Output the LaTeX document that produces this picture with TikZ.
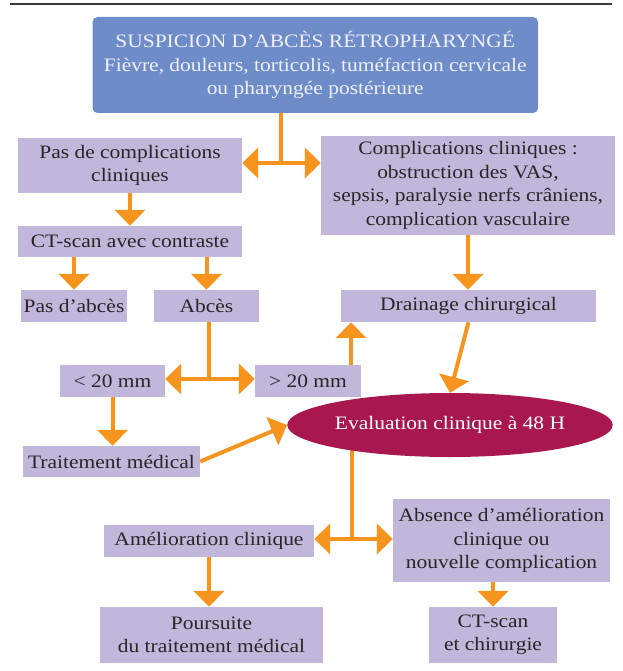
\documentclass[tikz,border=0pt]{standalone}
\usepackage{fontspec}
\setmainfont{Liberation Serif}[FakeStretch=1.13]
\usetikzlibrary{arrows.meta,backgrounds,shapes.geometric}
\definecolor{boxc}{HTML}{C0B7DB}
\definecolor{bluec}{HTML}{6E8CC8}
\definecolor{redc}{HTML}{A8184F}
\definecolor{orc}{HTML}{F7941E}
\definecolor{txtc}{HTML}{2B2527}
\definecolor{rulec}{HTML}{3A3A3A}
\begin{document}
\begin{tikzpicture}[x=1pt,y=-1pt,
  box/.style={fill=boxc, text=txtc, inner sep=0pt, align=center, font=\fontsize{19}{23.5}\selectfont},
  conn/.style={draw=orc, line width=4pt},
  arr/.style={conn, -{Triangle[width=30pt,length=16pt]}},
  darr/.style={conn, {Triangle[width=30pt,length=16pt]}-{Triangle[width=30pt,length=16pt]}}]
\useasboundingbox (0,0) rectangle (622,671);
\draw[rulec, line width=2pt] (10,4) -- (612,4);

\node[box, fill=bluec, text=white!94!blue, rounded corners=5pt, minimum width=445.5pt, minimum height=96pt] (top) at (315.25,65)
  {SUSPICION D’ABCÈS RÉTROPHARYNGÉ\\Fièvre, douleurs, torticolis, tuméfaction cervicale\\ou pharyngée postérieure};
\node[box, minimum width=224pt, minimum height=55pt] (pasc) at (130,165.5) {Pas de complications\\cliniques};
\node[box, minimum width=294pt, minimum height=99pt] (comp) at (468,185.5)
  {Complications cliniques :\\obstruction des VAS,\\sepsis, paralysie nerfs crâniens,\\complication vasculaire};
\node[box, minimum width=224pt, minimum height=31pt] (ct) at (130,241.5) {CT-scan avec contraste};
\node[box, minimum width=106pt, minimum height=32pt] (pasab) at (74,306) {Pas d’abcès};
\node[box, minimum width=105pt, minimum height=32pt] (abces) at (206.5,306) {Abcès};
\node[box, minimum width=255pt, minimum height=32pt] (drain) at (468.5,306) {Drainage chirurgical};
\node[box, minimum width=105pt, minimum height=32pt] (lt) at (112.5,381) {< 20 mm};
\node[box, minimum width=106pt, minimum height=32pt] (gt) at (308,381) {> 20 mm};
\node[box, ellipse, fill=redc, text=white, minimum width=251pt, minimum height=64pt] (eval) at (450,425) {Evaluation clinique à 48 H};
\node[box, minimum width=177pt, minimum height=31pt] (tm) at (111.5,461.5) {Traitement médical};
\node[box, minimum width=210pt, minimum height=32pt] (amel) at (209,541) {Amélioration clinique};
\node[box, minimum width=217pt, minimum height=83pt] (abs) at (501.5,540.5) {Absence d’amélioration\\clinique ou\\nouvelle complication};
\node[box, minimum width=223pt, minimum height=56pt] (pours) at (211.5,635) {Poursuite\\du traitement médical};
\node[box, minimum width=128pt, minimum height=56pt] (ctc) at (493,635) {CT-scan\\et chirurgie};

\coordinate (j1) at (281,163);
\coordinate (j2) at (209,379);
\coordinate (gx) at (351,379);
\coordinate (j3) at (352,539);

\draw[conn] (top.south -| j1) -- (j1);
\draw[darr] (pasc.east |- j1) -- (comp.west |- j1);
\draw[arr] (pasc.south) -- (ct.north);
\draw[arr] (pasab.north |- ct.south) -- (pasab.north);
\draw[arr] (abces.north |- ct.south) -- (abces.north);
\draw[arr] (comp.south) -- (comp.south |- drain.north);
\draw[conn] (abces.south -| j2) -- (j2);
\draw[darr] (lt.east |- j2) -- (gt.west |- j2);
\draw[arr] (gt.north -| gx) -- (drain.south -| gx);
\draw[arr] (drain.south) -- (eval.north);
\draw[arr] (lt.south) -- (lt.south |- tm.north);
\draw[arr] (tm.east) -- (eval.west);
\begin{scope}[on background layer]
\draw[conn] (eval.center -| j3) -- (j3);
\end{scope}
\draw[darr] (amel.east |- j3) -- (abs.west |- j3);
\draw[arr] (amel.south) -- (amel.south |- pours.north);
\draw[arr] (ctc.north |- abs.south) -- (ctc.north);
\end{tikzpicture}
\end{document}
